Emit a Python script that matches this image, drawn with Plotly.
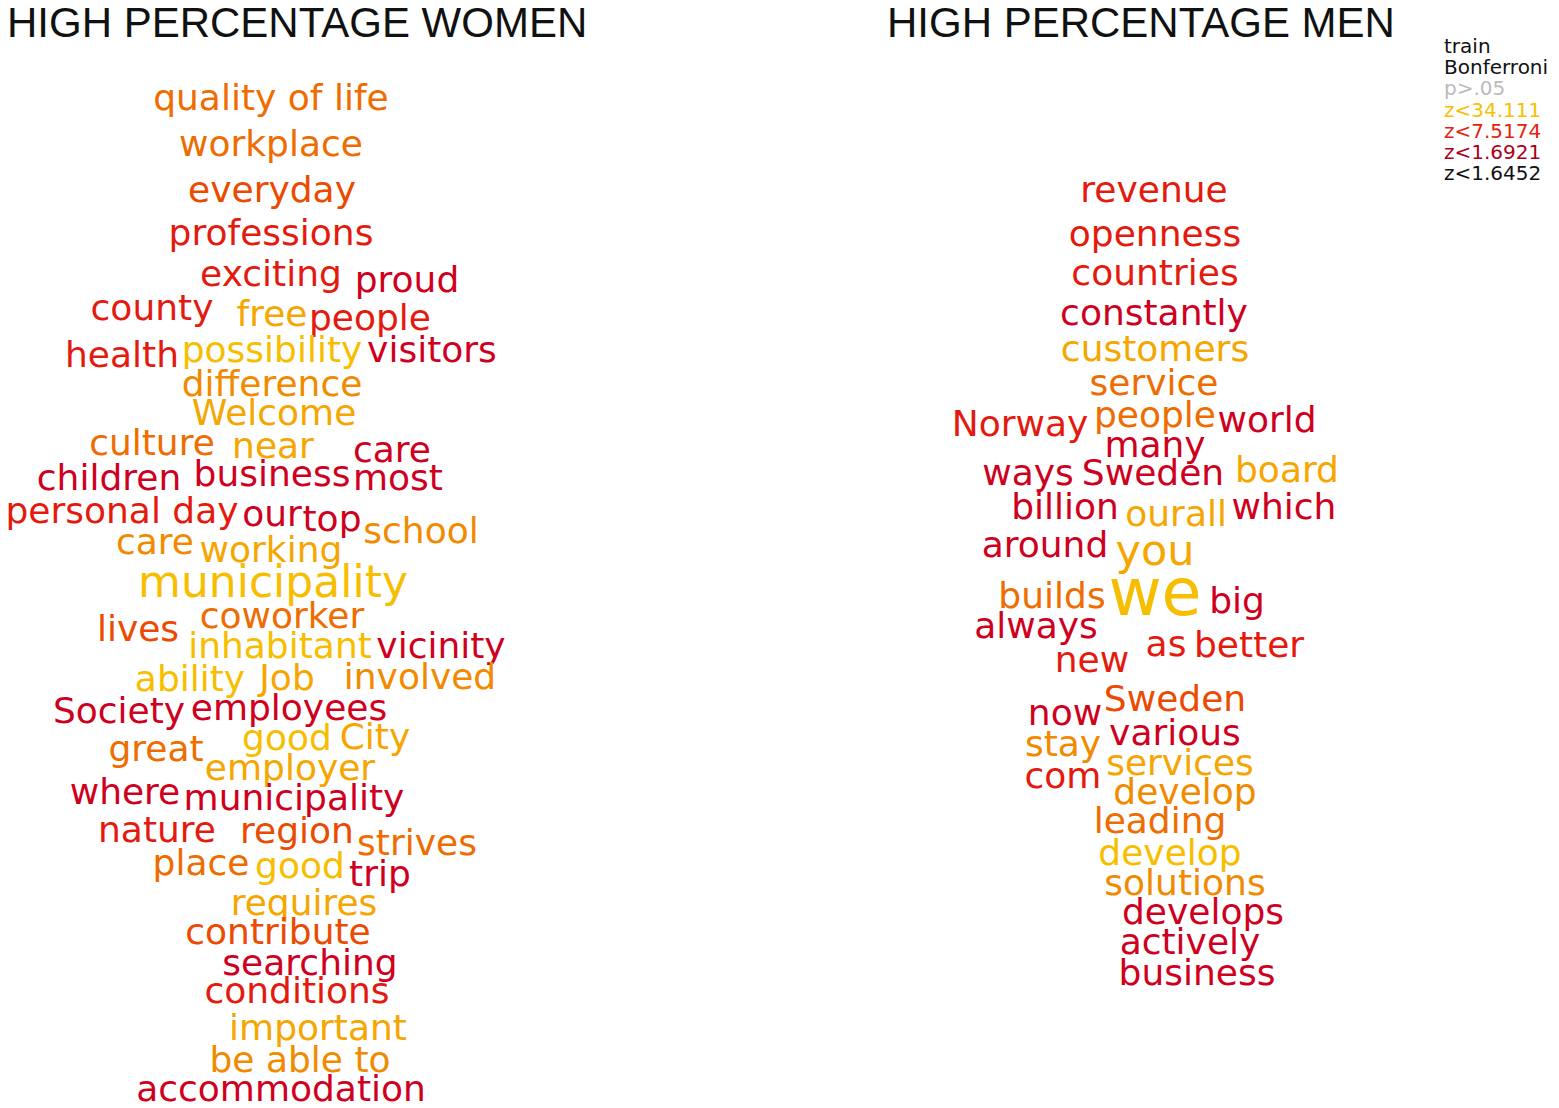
import plotly.graph_objects as go

# colour levels, from strongest yellow (0) to deep crimson (6)
level_colors = ["#f7be00", "#f6a600", "#f28a00", "#ef6c00", "#ec4a00", "#e41a0e", "#cf001e"]

# ---- HIGH PERCENTAGE WOMEN ----
women_words = ["quality of life", "workplace", "everyday", "professions", "exciting", "proud",
               "county", "free", "people", "health", "possibility", "visitors", "difference",
               "Welcome", "culture", "near", "care", "children", "business", "most",
               "personal day", "our", "top", "school", "care", "working", "municipality",
               "coworker", "lives", "inhabitant", "vicinity", "ability", "Job", "involved",
               "Society", "employees", "great", "good", "City", "employer", "where",
               "municipality", "nature", "region", "strives", "place", "good", "trip",
               "requires", "contribute", "searching", "conditions", "important", "be able to",
               "accommodation"]
women_x = [271, 271, 272, 271, 271, 407,
           152, 272, 370, 122, 272, 432, 272,
           274, 152, 273, 392, 109, 272, 398,
           122, 272, 332, 421, 155, 271, 273,
           282, 138, 280, 441, 190, 287, 420,
           119, 289, 156, 287, 375, 290, 125,
           294, 157, 297, 417, 201, 300, 380,
           304, 278, 310, 297, 318, 300,
           281]
women_y = [97, 143, 189, 232, 273, 279,
           307, 313, 317, 354, 349, 349, 383,
           412, 442, 445, 449, 477, 473, 477,
           510, 513, 518, 530, 541, 549, 582,
           615, 628, 645, 645, 678, 677, 676,
           710, 707, 748, 737, 736, 767, 791,
           797, 829, 830, 842, 862, 865, 873,
           902, 931, 962, 990, 1027, 1059,
           1088]
women_size = [36, 36, 36, 36, 36, 36,
              36, 36, 36, 36, 36, 36, 36,
              36, 36, 36, 36, 36, 36, 36,
              36, 36, 36, 36, 36, 36, 44,
              36, 36, 36, 36, 36, 36, 36,
              36, 36, 36, 36, 36, 36, 36,
              36, 36, 36, 36, 36, 36, 36,
              36, 36, 36, 36, 36, 36,
              36]
women_level = [3, 3, 4, 5, 5, 6,
               5, 1, 5, 5, 0, 6, 2,
               1, 3, 1, 6, 6, 6, 6,
               5, 6, 6, 2, 2, 1, 0,
               3, 4, 0, 6, 0, 1, 2,
               6, 6, 3, 0, 1, 1, 6,
               6, 5, 4, 3, 3, 0, 6,
               1, 4, 6, 5, 1, 2,
               6]

# ---- HIGH PERCENTAGE MEN ----
men_words = ["revenue", "openness", "countries", "constantly", "customers", "service",
             "Norway", "people", "world", "many", "ways", "Sweden", "board", "billion",
             "our", "all", "which", "around", "you", "builds", "we", "big", "always",
             "as", "better", "new", "Sweden", "now", "stay", "various", "services", "com",
             "develop", "leading", "develop", "solutions", "develops", "actively", "business"]
men_x = [1154, 1155, 1155, 1154, 1155, 1154,
         1020, 1155, 1267, 1155, 1028, 1153, 1287, 1065,
         1155, 1206, 1284, 1045, 1155, 1052, 1155, 1237, 1036,
         1166, 1249, 1092, 1175, 1065, 1063, 1175, 1180, 1063,
         1185, 1160, 1170, 1185, 1203, 1190, 1197]
men_y = [189, 233, 272, 312, 348, 382,
         423, 414, 419, 444, 472, 472, 469, 506,
         513, 513, 506, 544, 550, 595, 595, 600, 625,
         643, 644, 659, 698, 712, 743, 732, 762, 775,
         791, 820, 852, 882, 911, 941, 972]
men_size = [36, 36, 36, 36, 36, 36,
            36, 36, 36, 36, 36, 36, 36, 36,
            36, 36, 36, 36, 43, 36, 65, 36, 36,
            36, 36, 36, 36, 36, 36, 36, 36, 36,
            36, 36, 36, 36, 36, 36, 36]
men_level = [5, 5, 5, 6, 1, 3,
             5, 3, 6, 6, 6, 6, 1, 6,
             1, 1, 6, 6, 1, 3, 0, 6, 6,
             5, 5, 5, 4, 6, 2, 6, 1, 5,
             2, 3, 0, 2, 6, 6, 6]

# ---- legend ----
legend_labels = ["train", "Bonferroni", "p>.05", "z<34.111", "z<7.5174", "z<1.6921", "z<1.6452"]
legend_colors = ["#111111", "#111111", "#bbbbbb", "#f7c000", "#e8200e", "#a8001a", "#111111"]

titles = ["HIGH PERCENTAGE WOMEN", "HIGH PERCENTAGE MEN"]

fig = go.Figure()
for words, xs, ys, sizes, levels in [(women_words, women_x, women_y, women_size, women_level),
                                     (men_words, men_x, men_y, men_size, men_level)]:
    fig.add_trace(go.Scatter(
        x=xs, y=ys, text=words, mode="text", textposition="middle center",
        textfont=dict(family="DejaVu Sans", size=sizes,
                      color=[level_colors[l] for l in levels]),
        hoverinfo="text", showlegend=False, cliponaxis=False))

# left title sits right at the page edge, so it is placed on the paper
fig.add_annotation(x=0, xref="paper", y=18, text=titles[0], showarrow=False,
                   xanchor="left", yanchor="middle", xshift=-3,
                   font=dict(family="Liberation Sans", size=42, color="#111111"))
fig.add_annotation(x=1141, y=18, text=titles[1], showarrow=False, xanchor="center", yanchor="middle",
                   font=dict(family="Liberation Sans", size=42, color="#111111"))
for i, (lab, col) in enumerate(zip(legend_labels, legend_colors)):
    fig.add_annotation(x=1442, y=42 + i * 21.2, text=lab, showarrow=False,
                       xanchor="left", yanchor="middle",
                       font=dict(family="DejaVu Sans", size=20, color=col))

# the page body has an 8px margin, so the figure is shifted by 8px and the
# ranges keep one data unit per pixel
fig.update_xaxes(range=[8, 1551], visible=False)
fig.update_yaxes(range=[1104, 4], visible=False)
fig.update_layout(width=1543, height=1100, margin=dict(l=0, r=0, t=0, b=0),
                  plot_bgcolor="white", paper_bgcolor="white")
fig.write_html("out.html")
